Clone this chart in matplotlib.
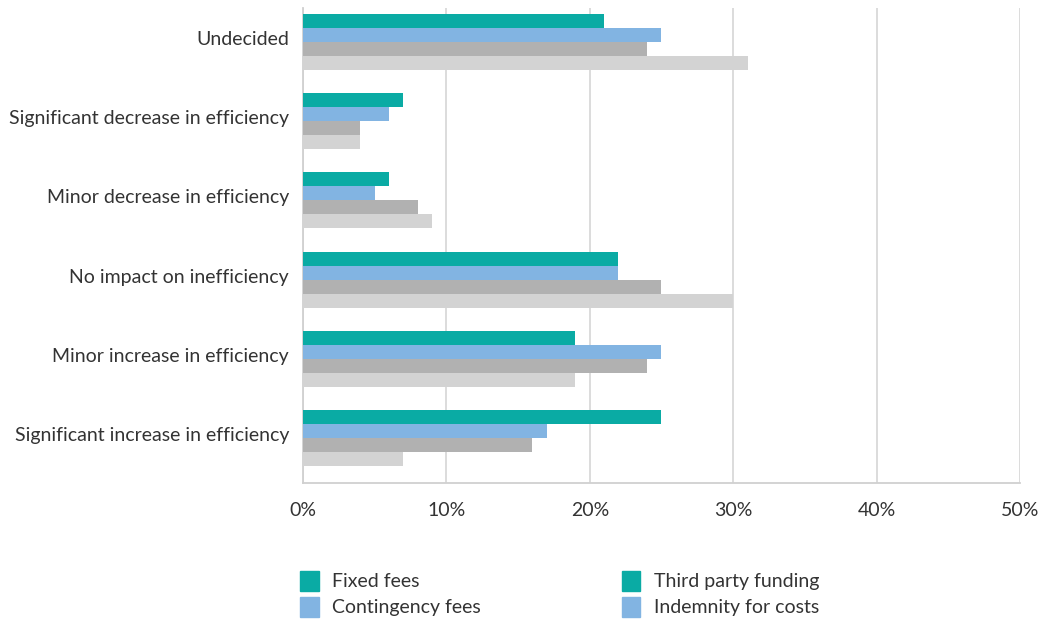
import numpy as np
import matplotlib.pyplot as plt
from matplotlib.patches import Patch

# Datos (en %)
categories = ["Undecided",
              "Significant decrease in efficiency",
              "Minor decrease in efficiency",
              "No impact on inefficiency",
              "Minor increase in efficiency",
              "Significant increase in efficiency"]
fixed_fees = [21, 7, 6, 22, 19, 25]
contingency_fees = [25, 6, 5, 22, 25, 17]
third_party = [24, 4, 8, 25, 24, 16]
indemnity = [31, 4, 9, 30, 19, 7]

series = [fixed_fees, contingency_fees, third_party, indemnity]
bar_colors = ["#0aaba4", "#82b4e2", "#b1b1b1", "#d3d3d3"]
legend_labels = ["Fixed fees", "Contingency fees", "Third party funding", "Indemnity for costs"]
# el original repite los colores en la leyenda
legend_colors = ["#0aaba4", "#82b4e2", "#0aaba4", "#82b4e2"]

plt.rcParams['font.family'] = ['Lato', 'DejaVu Sans']

fig = plt.figure(figsize=(10.47, 6.25), dpi=100)
ax = fig.add_axes([0.2894, 0.2272, 0.6848, 0.76])

y = np.arange(len(categories))
h = 0.177
for k, (vals, col) in enumerate(zip(series, bar_colors)):
    ax.barh(y - 1.5 * h + k * h, vals, height=h, color=col, zorder=3)

ax.set_xlim(0, 50)
ax.set_ylim(5.57, -0.43)
ax.set_xticks(np.arange(0, 51, 10))
ax.set_xticklabels([f"{v}%" for v in range(0, 51, 10)])
ax.set_yticks(y - 0.05)
ax.set_yticklabels(categories)
ax.tick_params(axis='both', length=0, labelsize=14, colors="#333333")
ax.tick_params(axis='x', pad=14)
ax.tick_params(axis='y', pad=10)
ax.grid(axis='x', color="#d9d9d9", linewidth=1.3, zorder=0)
for s in ['top', 'right']:
    ax.spines[s].set_visible(False)
for s in ['left', 'bottom']:
    ax.spines[s].set_color("#d0d0d0")
    ax.spines[s].set_linewidth(1.3)

handles = [Patch(color=c, label=l) for c, l in zip(legend_colors, legend_labels)]
fig.legend(handles=handles, ncol=2, loc='upper left', bbox_to_anchor=(0.27, 0.115),
           frameon=False, fontsize=14, handlelength=0.95, handleheight=1.2,
           columnspacing=7.25, labelspacing=0.32, handletextpad=0.7,
           labelcolor="#333333")

fig.savefig("out.png", dpi=100)
